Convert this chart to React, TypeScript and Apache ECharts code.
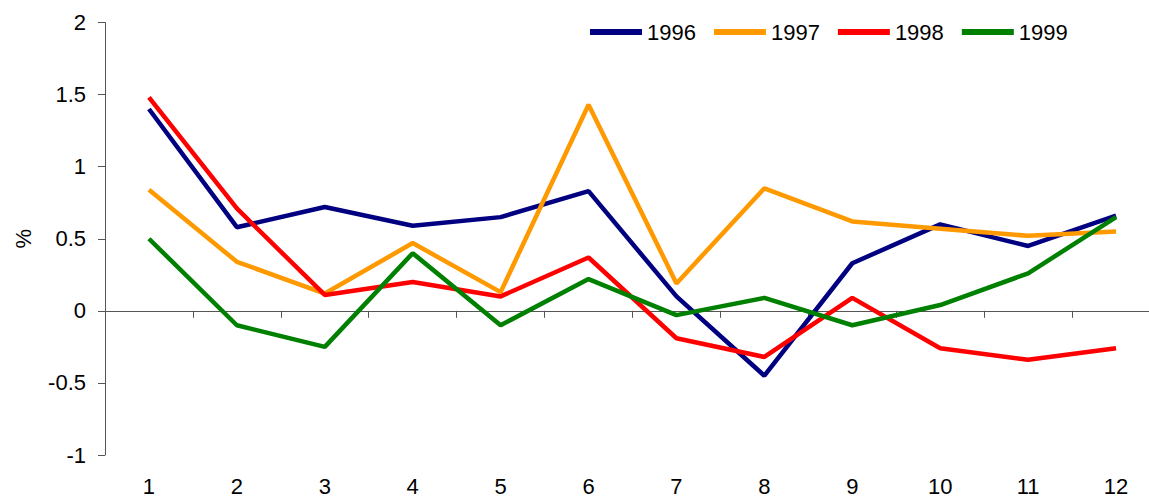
import React, { useEffect, useRef } from "react";
import * as echarts from "echarts";

const months = ["1", "2", "3", "4", "5", "6", "7", "8", "9", "10", "11", "12"];
const s1996 = [1.4, 0.58, 0.72, 0.59, 0.65, 0.83, 0.1, -0.45, 0.33, 0.6, 0.45, 0.66];
const s1997 = [0.84, 0.34, 0.12, 0.47, 0.13, 1.43, 0.19, 0.85, 0.62, 0.57, 0.52, 0.55];
const s1998 = [1.48, 0.71, 0.11, 0.2, 0.1, 0.37, -0.19, -0.32, 0.09, -0.26, -0.34, -0.26];
const s1999 = [0.5, -0.1, -0.25, 0.4, -0.1, 0.22, -0.03, 0.09, -0.1, 0.04, 0.26, 0.65];
const seriesNames = ["1996", "1997", "1998", "1999"];
const seriesColors = ["#000080", "#FF9900", "#FF0000", "#008000"];

const FONT = "'Liberation Sans', Arial, sans-serif";

export default function App() {
  const ref = useRef<HTMLDivElement>(null);
  useEffect(() => {
    if (!ref.current) return;
    const chart = echarts.init(ref.current, undefined, { renderer: "svg" });
    const data = [s1996, s1997, s1998, s1999];
    chart.setOption({
      animation: false,
      textStyle: { fontFamily: FONT },
      legend: {
        left: 585,
        top: 16,
        icon: "rect",
        itemWidth: 52,
        itemHeight: 6,
        itemGap: 18,
        textStyle: { fontSize: 22, color: "#000", fontFamily: FONT },
        data: seriesNames,
      },
      grid: { left: 105, right: -11, top: 22.5, bottom: 43, containLabel: false, outerBoundsMode: "none" },
      xAxis: {
        type: "category",
        data: months,
        boundaryGap: true,
        axisLine: { onZero: true, lineStyle: { color: "#555", width: 1 } },
        axisTick: { show: true, length: 7, lineStyle: { color: "#555" } },
        axisLabel: { margin: 20, fontSize: 22, color: "#000", fontFamily: FONT },
        splitLine: { show: false },
      },
      yAxis: {
        type: "value",
        min: -1,
        max: 2,
        interval: 0.5,
        name: "%",
        nameLocation: "middle",
        nameGap: 71,
        nameTextStyle: { fontSize: 22, color: "#000", fontFamily: FONT },
        axisLine: { show: true, lineStyle: { color: "#555", width: 1 } },
        axisTick: { show: true, length: 7, lineStyle: { color: "#555" } },
        axisLabel: { margin: 19, fontSize: 22, color: "#000", fontFamily: FONT },
        splitLine: { show: false },
      },
      series: data.map((d, i) => ({
        name: seriesNames[i],
        type: "line",
        data: d,
        symbol: "none",
        color: seriesColors[i],
        lineStyle: { width: 4.5, color: seriesColors[i] },
      })),
    });
    return () => chart.dispose();
  }, []);
  return <div ref={ref} style={{ width: 1149, height: 498, position: "absolute", left: 0, top: 0 }} />;
}
